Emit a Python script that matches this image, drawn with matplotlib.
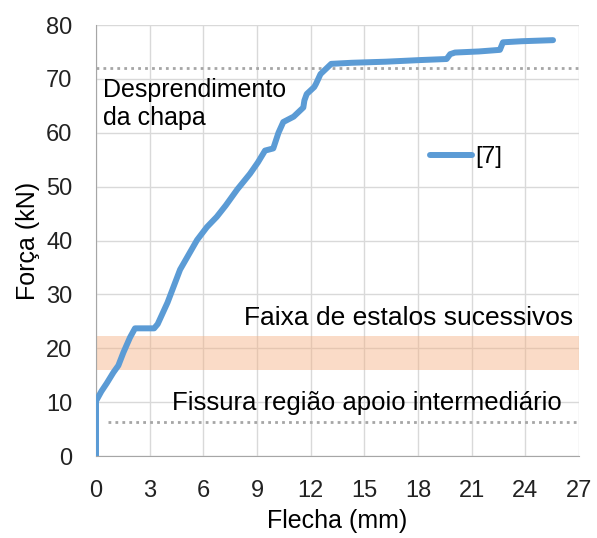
import matplotlib.pyplot as plt

plt.rcParams['font.family'] = ['Liberation Sans', 'DejaVu Sans']

# curva carga x flecha, ensaio [7]
flecha = [0.0, 0.0, 0.3, 0.6, 0.97, 1.25, 1.53, 1.9, 2.18, 3.25, 3.45, 4.0,
          4.7, 5.65, 6.2, 6.75, 7.25, 7.9, 8.61, 9.05, 9.45, 9.91, 10.2,
          10.47, 11.05, 11.59, 11.65, 11.78, 12.2, 12.3, 12.55, 13.15, 14.3,
          16.2, 18.1, 19.6, 19.8, 20.07, 21.4, 22.58, 22.75, 23.8, 25.55]
forca = [0.0, 10.2, 12.0, 13.5, 15.5, 16.8, 19.2, 22.0, 23.7, 23.7, 24.5,
         28.5, 34.6, 40.1, 42.5, 44.4, 46.5, 49.5, 52.4, 54.5, 56.7, 57.1,
         60.0, 62.0, 63.0, 64.7, 66.0, 67.2, 68.5, 69.1, 70.9, 72.8, 73.0,
         73.2, 73.5, 73.7, 74.6, 74.9, 75.1, 75.4, 76.8, 77.0, 77.2]

y_desprendimento = 72
y_fissura = 6.3
faixa_estalos = (16.0, 22.3)

x_ticks = list(range(0, 28, 3))
y_ticks = list(range(0, 81, 10))

fig = plt.figure(figsize=(5.97, 5.38), dpi=100)
ax = fig.add_axes([0.1608, 0.1524, 0.809, 0.801])

ax.axhspan(*faixa_estalos, color='#f4b183', alpha=0.45, lw=0, zorder=1)
ax.plot([0, 27], [y_desprendimento] * 2, ls=(0, (1, 1.5)), color='#a6a6a6', lw=2, zorder=2)
ax.plot([0.67, 27], [y_fissura] * 2, ls=(0, (1, 1.5)), color='#a6a6a6', lw=2, zorder=2)
ax.plot(flecha, forca, color='#5b9bd5', lw=4.3, solid_joinstyle='round',
        solid_capstyle='round', label='[7]', zorder=3)

ax.text(0.4, 66.7, 'Desprendimento', fontsize=18, ha='left', va='baseline')
ax.text(0.4, 61.4, 'da chapa', fontsize=18, ha='left', va='baseline')
ax.text(26.68, 24.3, 'Faixa de estalos sucessivos', fontsize=19, ha='right', va='baseline')
ax.text(26.06, 8.5, 'Fissura região apoio intermediário', fontsize=18.5, ha='right', va='baseline')

ax.set_xlim(0, 27)
ax.set_ylim(0, 80)
ax.set_xticks(x_ticks)
ax.set_yticks(y_ticks)
ax.tick_params(length=0, labelsize=17, colors='#222222')
ax.tick_params(axis='x', pad=17)
ax.tick_params(axis='y', pad=17)
ax.grid(True, color='#d9d9d9', lw=1)
ax.set_axisbelow(True)
for s in ['top', 'right']:
    ax.spines[s].set_visible(False)
ax.spines['left'].set_color('#a6a6a6')
ax.spines['bottom'].set_color('#a6a6a6')

ax.set_xlabel('Flecha (mm)', fontsize=18, labelpad=5)
ax.set_ylabel('Força (kN)', fontsize=18, labelpad=4)

ax.legend(loc='center left', bbox_to_anchor=(18.67, 55.5), bbox_transform=ax.transData,
          frameon=False, fontsize=17.5, borderpad=0, borderaxespad=0,
          handlelength=1.73, handletextpad=0.15)

fig.savefig('out.png', dpi=100)
